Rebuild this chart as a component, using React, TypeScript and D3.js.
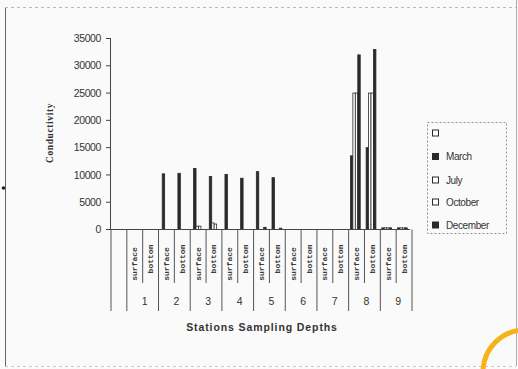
import React from "react";
import * as d3 from "d3";

const W = 518;
const H = 369;

// Stations and the two sampling depths under each one
const stations = ["1", "2", "3", "4", "5", "6", "7", "8", "9"];
const depths = ["surface", "bottom"];
// a leading blank column, then surface/bottom for every station
const categories = ["", ...stations.flatMap((s) => depths.map((d) => `${s}|${d}`))];

const seriesNames = ["", "March", "July", "October", "December"];
const seriesFilled = [false, true, false, false, true];

// Conductivity per column (19 columns: blank, then st1 surface, st1 bottom, ...)
const blankSeries = [0, 0, 0, 0, 0, 0, 0, 0, 0, 0, 0, 0, 0, 0, 0, 0, 0, 0, 0];
const march = [0, 0, 0, 10200, 10300, 11200, 9700, 10100, 9400, 10600, 9500, 0, 0, 0, 0, 13500, 15000, 300, 300];
const july = [0, 0, 0, 0, 0, 600, 1200, 0, 0, 0, 0, 0, 0, 0, 0, 25000, 25000, 300, 300];
const october = [0, 0, 0, 0, 0, 600, 1000, 0, 0, 0, 0, 0, 0, 0, 0, 25000, 25000, 300, 300];
const december = [0, 0, 0, 0, 0, 0, 0, 0, 0, 400, 250, 0, 0, 0, 0, 32000, 33000, 300, 300];
const seriesValues = [blankSeries, march, july, october, december];

const yTicks = [0, 5000, 10000, 15000, 20000, 25000, 30000, 35000];

const INK = "#2a2a2a";
const TEXT = "#333";

export default function App() {
  const y = d3.scaleLinear().domain([0, 35000]).range([229.5, 38.5]);
  const xCat = d3.scaleBand<string>().domain(categories).range([111, 409]).padding(0);
  const xTable = xCat.copy().range([111, 412]);
  const xSer = d3
    .scaleBand<number>()
    .domain(seriesNames.map((_, i) => i))
    .range([0, xCat.bandwidth()])
    .paddingInner(0)
    .paddingOuter(0.7);

  const bars: React.ReactNode[] = [];
  categories.forEach((c, i) => {
    seriesValues.forEach((vals, j) => {
      const v = vals[i];
      if (!v) return;
      const x0 = (xCat(c) as number) + (xSer(j) as number);
      bars.push(
        <rect
          key={`b-${i}-${j}`}
          x={x0}
          y={y(v)}
          width={xSer.bandwidth()}
          height={y(0) - y(v)}
          fill={seriesFilled[j] ? INK : "#fff"}
          stroke={INK}
          strokeWidth={0.8}
        />
      );
    });
  });

  // Data table lines and labels beneath the category axis
  const table: React.ReactNode[] = [];
  const tb = xTable.bandwidth();
  categories.forEach((c, i) => {
    const x0 = xTable(c) as number;
    const isGroupStart = i === 0 || c.endsWith("|surface") || i === 1;
    table.push(
      <line
        key={`tl-${i}`}
        x1={x0}
        x2={x0}
        y1={229.5}
        y2={isGroupStart ? 311 : 283}
        stroke="#555"
        strokeWidth={1}
      />
    );
    if (c) {
      const depth = c.split("|")[1];
      const cx = x0 + tb / 2;
      const cy = depth === "surface" ? 264 : 259;
      table.push(
        <text
          key={`dl-${i}`}
          transform={`translate(${cx + 2.5},${cy}) rotate(-90)`}
          textAnchor="middle"
          fontFamily="'Liberation Mono', monospace"
          fontWeight="bold"
          fontSize={8}
          fill="#3a3a3a"
        >
          {depth}
        </text>
      );
    }
  });
  const lastX = (xTable(categories[categories.length - 1]) as number) + tb;
  table.push(
    <line key="tl-end" x1={lastX} x2={lastX} y1={229.5} y2={311} stroke="#555" strokeWidth={1} />
  );
  stations.forEach((s) => {
    const xs = xTable(`${s}|surface`) as number;
    table.push(
      <text
        key={`st-${s}`}
        x={xs + tb + 2}
        y={305}
        textAnchor="middle"
        fontFamily="'Liberation Sans', Arial, sans-serif"
        fontSize={10.5}
        fill={TEXT}
      >
        {s}
      </text>
    );
  });

  const legendRows = [133, 156.5, 180, 202, 225];

  return (
    <div style={{ position: "absolute", left: 0, top: 0 }}>
      <svg width={W} height={H} viewBox={`0 0 ${W} ${H}`} style={{ display: "block" }}>
        <rect x={0} y={0} width={W} height={H} fill="#fafafa" />

        {/* outer frame */}
        <line x1={5.5} x2={5.5} y1={8} y2={366} stroke="#666" strokeWidth={1} />
        <line x1={5} x2={516} y1={7.5} y2={7.5} stroke="#aaa" strokeWidth={0.8} strokeDasharray="3 3" />
        <line x1={516.5} x2={516.5} y1={0} y2={366} stroke="#999" strokeWidth={0.8} />
        <line x1={5} x2={516} y1={366.5} y2={366.5} stroke="#bbb" strokeWidth={0.8} strokeDasharray="3 3" />
        <circle cx={3.5} cy={188} r={1.8} fill="#222" />

        {/* y axis */}
        <line x1={110.5} x2={110.5} y1={38} y2={230} stroke="#444" strokeWidth={1} />
        {yTicks.map((t) => (
          <g key={`yt-${t}`}>
            <line x1={106} x2={110.5} y1={y(t)} y2={y(t)} stroke="#444" strokeWidth={1} />
            <text
              x={101}
              y={y(t)}
              dy="0.35em"
              textAnchor="end"
              fontFamily="'Liberation Sans', Arial, sans-serif"
              fontSize={10.5}
              letterSpacing={-0.4}
              fill={TEXT}
            >
              {t}
            </text>
          </g>
        ))}
        <text
          transform={`translate(53,133) rotate(-90)`}
          textAnchor="middle"
          fontFamily="'Liberation Serif', serif"
          fontWeight="bold"
          fontSize={9.5}
          letterSpacing={0.6}
          fill={TEXT}
        >
          Conductivity
        </text>

        {bars}

        {/* x axis */}
        <line x1={106} x2={410} y1={229.5} y2={229.5} stroke="#444" strokeWidth={1} />
        {table}
        <text
          x={262}
          y={331}
          textAnchor="middle"
          fontFamily="'Liberation Sans', Arial, sans-serif"
          fontWeight="bold"
          fontSize={10.5}
          letterSpacing={0.9}
          fill={TEXT}
        >
          Stations Sampling Depths
        </text>

        {/* legend */}
        <rect x={427.5} y={122.5} width={79} height={111} fill="none" stroke="#777" strokeWidth={0.8} strokeDasharray="2 2" />
        {seriesNames.map((name, j) => (
          <g key={`lg-${j}`}>
            <rect
              x={432.5}
              y={legendRows[j] - 3}
              width={6}
              height={6}
              fill={seriesFilled[j] ? INK : "#fff"}
              stroke={INK}
              strokeWidth={1}
            />
            <text
              x={446}
              y={legendRows[j]}
              dy="0.35em"
              fontFamily="'Liberation Sans', Arial, sans-serif"
              fontSize={10}
              letterSpacing={-0.4}
              fill={TEXT}
            >
              {name}
            </text>
          </g>
        ))}

        {/* orange ring in the corner */}
        <circle cx={525} cy={372} r={42} fill="none" stroke="#f6b21b" strokeWidth={5} />
      </svg>
    </div>
  );
}
